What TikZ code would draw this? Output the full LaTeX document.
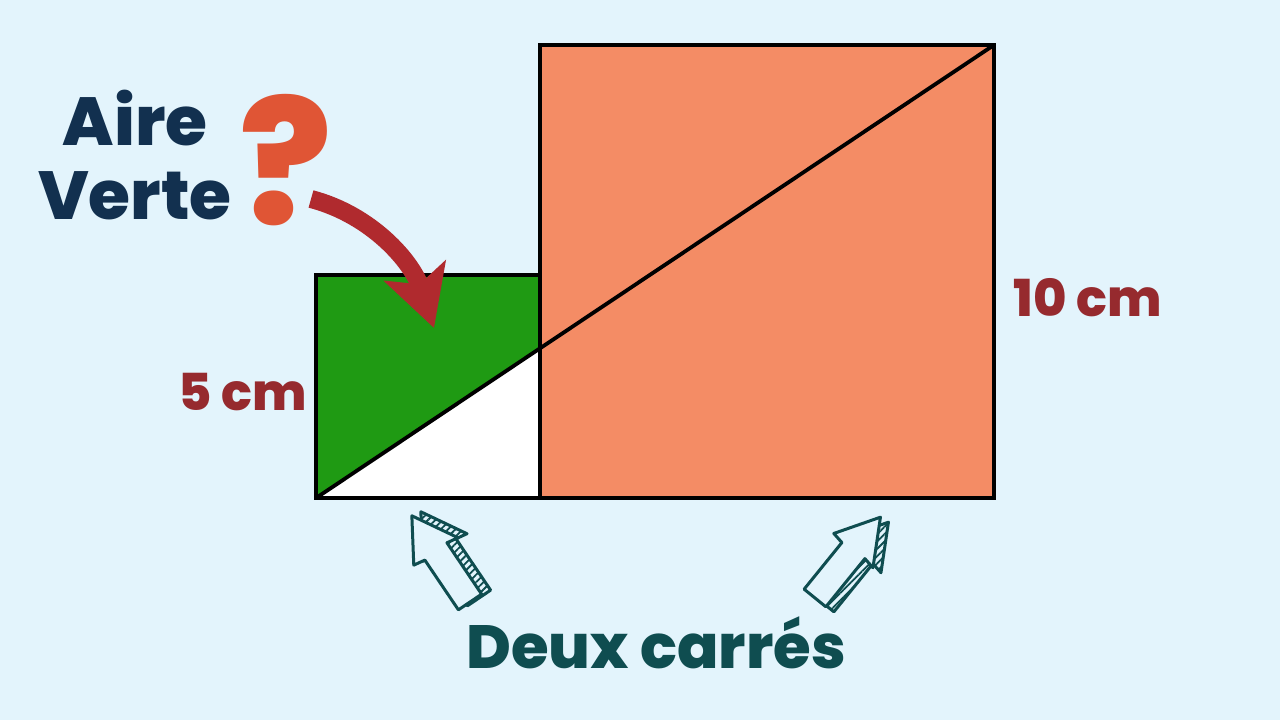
\documentclass[tikz,border=0pt]{standalone}
\usepackage{fontspec}
\setmainfont{Poppins}[BoldFont={Poppins ExtraBold}]
\usetikzlibrary{arrows.meta,positioning,patterns.meta,calc}
\definecolor{bgblue}{HTML}{E3F4FC}
\definecolor{greenarea}{HTML}{1F9A13}
\definecolor{orangesq}{HTML}{F48C65}
\definecolor{navy}{HTML}{12304F}
\definecolor{qorange}{HTML}{E05535}
\definecolor{arrowred}{HTML}{B02A2E}
\definecolor{dimred}{HTML}{962A2E}
\definecolor{darkteal}{HTML}{0F4D50}

\tikzset{
  edge/.style={draw=black, line width=2.3pt},
  diag/.style={draw=black, line width=1.9pt},
  titletext/.style={text=navy, font=\bfseries\fontsize{34}{37}\selectfont, align=center},
  qmark/.style={text=qorange, font=\bfseries\fontsize{86}{90}\selectfont},
  dimtext/.style={text=dimred, font=\bfseries\fontsize{25.5}{30}\selectfont},
  captiontext/.style={text=darkteal, font=\bfseries\fontsize{30.5}{36}\selectfont},
  redarrow/.style={draw=arrowred, line width=9pt, -{Stealth[length=30pt,width=32pt,inset=7pt]}},
  sketchfront/.style={draw=darkteal, fill=bgblue, line width=1.5pt, line join=round},
  sketchback/.style={draw=darkteal, line width=1.5pt, line join=round,
    pattern={Lines[angle=45,distance=2.6pt,line width=0.9pt]}, pattern color=darkteal}
}

% hollow hand drawn arrow: base x, base y, angle, depth offset
\newcommand{\arrowshape}{(0,-14) -- (62,-14) -- (60,-26) -- (104,0) -- (62,26) -- (60,14) -- (0,14) -- cycle}
\newcommand{\sketcharrow}[5]{%
  \begin{scope}[shift={(#1+#4,#2+#5)}, rotate=#3]
    \path[sketchback] \arrowshape;
  \end{scope}
  \begin{scope}[shift={(#1,#2)}, rotate=#3]
    \path[sketchfront] \arrowshape;
  \end{scope}}

\begin{document}
\begin{tikzpicture}[x=0.5pt,y=0.5pt]
\fill[bgblue] (0,0) rectangle (1280,720);
\useasboundingbox (0,0) rectangle (1280,720);

% the two squares
\coordinate (A) at (316,222);
\coordinate (B) at (540,222);
\coordinate (C) at (540,445);
\coordinate (F) at (994,675);
\coordinate (M) at ($(A)!{224/678}!(F)$);

\fill[greenarea] (A) rectangle (C);
\fill[orangesq] (B) rectangle (F);
\fill[white] (A) -- (M) -- (B) -- cycle;
\draw[edge] (A) rectangle (C);
\draw[edge] (B) rectangle (F);
\draw[diag] (A) -- (F);

% texts
\node[titletext] (aire) at (135,565) {Aire\\Verte};
\node[qmark] (quest) at (286,560) {?};
\node[dimtext] (small) at (243,328) {5 cm};
\node[dimtext] (big) at (1088,422) {10 cm};
\node[captiontext] (deux) at (656,77) {Deux carrés};

% red arrow to the green area
\coordinate (start) at (311,521);
\coordinate (tip) at (434,392);
\draw[redarrow] (start) .. controls (372,505) and (412,458) .. (tip);

% sketch arrows
\sketcharrow{470}{118}{124}{9}{4}
\sketcharrow{815}{122}{51}{8}{-5}
\end{tikzpicture}
\end{document}
